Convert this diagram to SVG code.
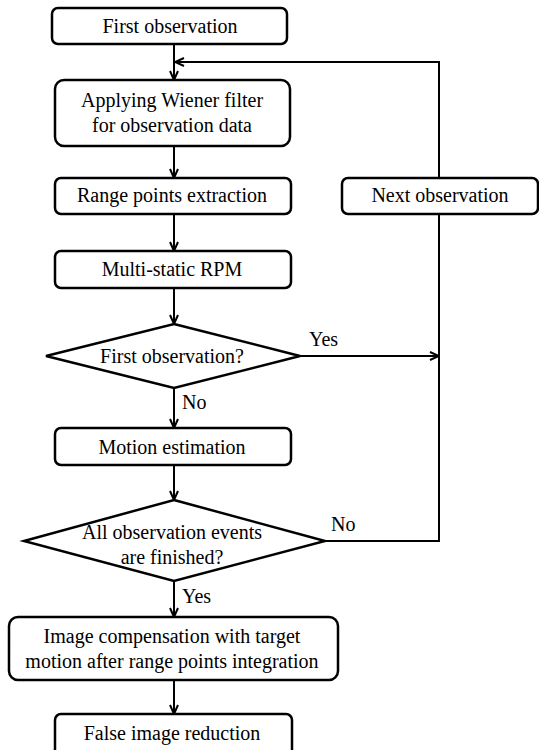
<svg xmlns="http://www.w3.org/2000/svg" width="539" height="750" viewBox="0 0 539 750">
<style>
.b{fill:#fff;stroke:#000;stroke-width:2.5}
text{font-family:"Liberation Serif","DejaVu Serif","Noto Serif",Times,serif;font-size:20px;fill:#000}
.t{text-anchor:middle}
.c{fill:none;stroke:#000;stroke-width:2}
</style>
<defs>
<marker id="a" viewBox="0 0 10 10" refX="10" refY="5" markerWidth="10" markerHeight="10" markerUnits="userSpaceOnUse" orient="auto">
<path d="M1,1 L10,5 L1,9" fill="none" stroke="#000" stroke-width="2"/>
</marker>
</defs>
<rect width="539" height="750" fill="#fff"/>
<g id="connectors">
<path class="c" d="M174,44 V80" marker-end="url(#a)"/>
<path class="c" d="M439,178 V62 H175" marker-end="url(#a)"/>
<path class="c" d="M174,146 V178" marker-end="url(#a)"/>
<path class="c" d="M174,214 V251" marker-end="url(#a)"/>
<path class="c" d="M174,288 V324" marker-end="url(#a)"/>
<path class="c" d="M300,356 H439" marker-end="url(#a)"/>
<path class="c" d="M174,388 V428" marker-end="url(#a)"/>
<path class="c" d="M174,465 V500" marker-end="url(#a)"/>
<path class="c" d="M325,541 H439 V214"/>
<path class="c" d="M174,581 V617" marker-end="url(#a)"/>
<path class="c" d="M174,680 V714" marker-end="url(#a)"/>
<text x="309" y="346">Yes</text>
<text x="182" y="409">No</text>
<text x="331" y="531">No</text>
<text x="182" y="603">Yes</text>
</g>
<g id="n1"><rect class="b" x="52" y="8" width="235" height="36" rx="6"/><text class="t" x="170" y="33">First observation</text></g>
<g id="n2"><rect class="b" x="55" y="80" width="235" height="66" rx="9"/><text class="t" x="172" y="107">Applying Wiener filter</text><text class="t" x="172" y="132">for observation data</text></g>
<g id="n3"><rect class="b" x="55" y="178" width="236" height="36" rx="6"/><text class="t" x="172" y="202">Range points extraction</text></g>
<g id="n4"><rect class="b" x="342" y="178" width="196" height="36" rx="6"/><text class="t" x="440" y="202">Next observation</text></g>
<g id="n5"><rect class="b" x="55" y="251" width="236" height="37" rx="6"/><text class="t" x="172" y="276">Multi-static RPM</text></g>
<g id="n6"><polygon class="b" points="174,324 300,356 174,388 46,356"/><text class="t" x="172" y="363">First observation?</text></g>
<g id="n7"><rect class="b" x="55" y="428" width="236" height="37" rx="6"/><text class="t" x="172" y="454">Motion estimation</text></g>
<g id="n8"><polygon class="b" points="174,500 325,541 174,581 24,541"/><text class="t" x="172" y="539">All observation events</text><text class="t" x="172" y="564">are finished?</text></g>
<g id="n9"><rect class="b" x="9" y="617" width="329" height="63" rx="9"/><text class="t" x="172" y="643">Image compensation with target</text><text class="t" x="172" y="668">motion after range points integration</text></g>
<g id="n10"><rect class="b" x="55" y="714" width="237" height="44" rx="6"/><text class="t" x="172" y="740">False image reduction</text></g>
</svg>
